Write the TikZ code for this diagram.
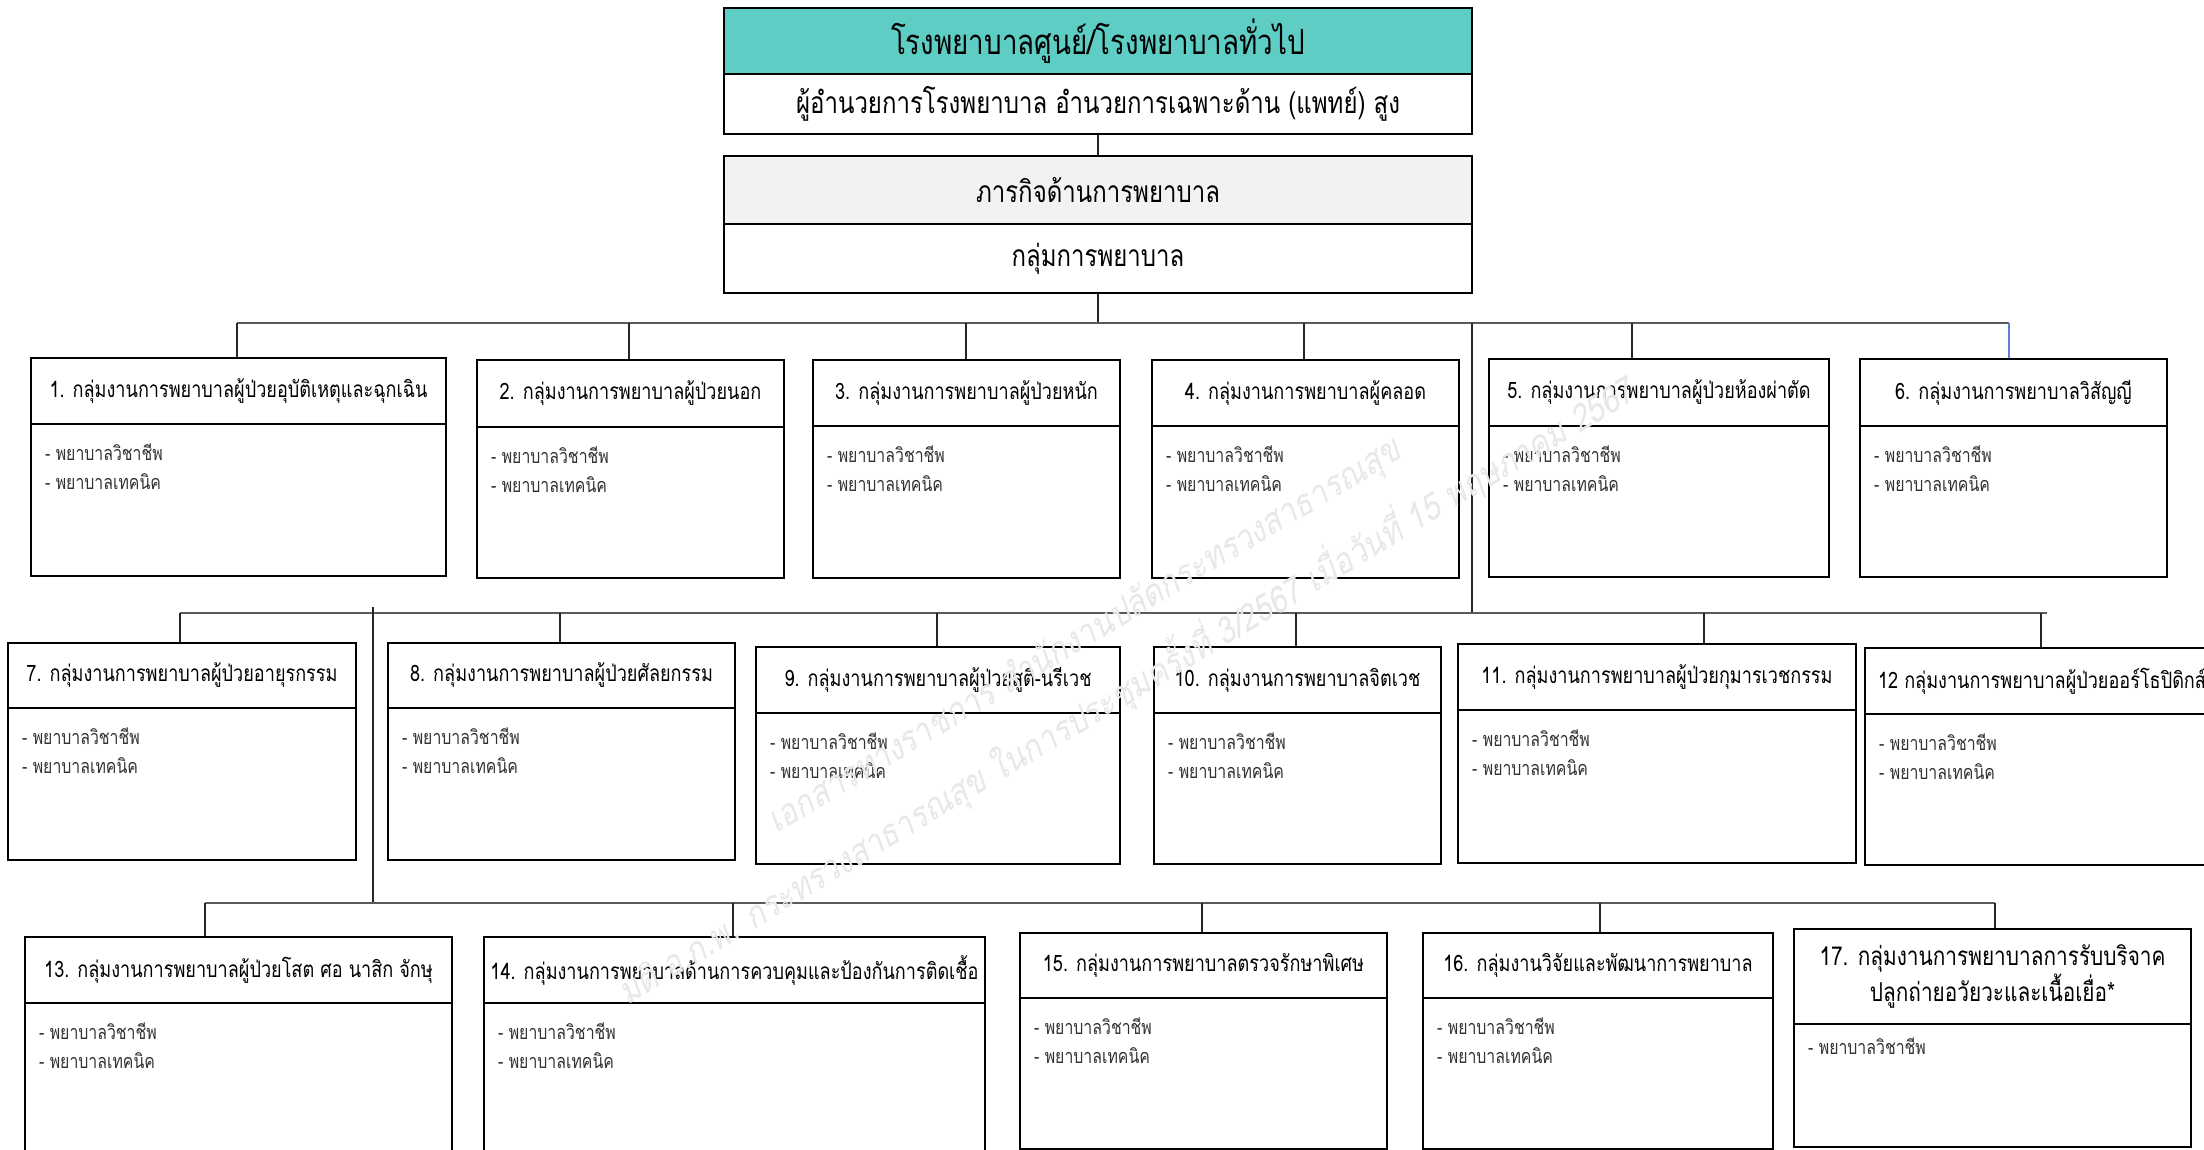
\documentclass[tikz,border=0pt]{standalone}
\usepackage{fontspec}
\setmainfont[Script=Thai,FakeStretch=0.8]{Loma}
\newfontfamily\wmfont[Script=Thai,FakeSlant=0.2,FakeStretch=0.85]{Loma}
\definecolor{tealhead}{RGB}{94,206,196}
\definecolor{grayhead}{RGB}{242,242,242}
\definecolor{linkblue}{RGB}{90,130,210}
\definecolor{busline}{RGB}{90,90,90}
\tikzset{
  topbox/.style={draw=black, line width=2pt, inner sep=0pt, anchor=north west, align=center},
  boxhdr/.style={draw=black, line width=2pt, fill=white, inner sep=0pt, anchor=north west, align=center, font=\fontsize{22.6}{31}\selectfont},
  boxbody/.style={draw=black, line width=2pt, fill=white, inner sep=0pt, anchor=north west},
  bultext/.style={anchor=west, inner sep=0pt, text=black!80, font=\fontsize{19.8}{22}\selectfont},
  conn/.style={draw=black!85, line width=1.2pt},
  bus/.style={draw=busline, line width=1.8pt},
  wmark/.style={text=black!9, rotate=31, inner sep=0pt, font=\wmfont\fontsize{36}{40}\selectfont},
}
% name, x1, x2, top, header bottom, bottom, header text
\newcommand\orgbox[7]{%
  \node[boxbody, minimum width={(#3-#2)*1pt}, minimum height={(#6-#5)*1pt}] (#1b) at (#2,#5) {};
  \node[boxhdr, minimum width={(#3-#2)*1pt}, minimum height={(#5-#4)*1pt}] (#1) at (#2,#4) {#7};}
\newcommand\twobul[3]{%
  \node[bultext] (#1p) at (#2+15,#3+29) {- พยาบาลวิชาชีพ};
  \node[bultext] (#1t) at (#2+15,#3+59) {- พยาบาลเทคนิค};}
\begin{document}
\begin{tikzpicture}[x=1pt,y=-1pt]
\path[use as bounding box, fill=white] (0,0) rectangle (2204,1150);
\clip (0,0) rectangle (2204,1150);

% top
\node[topbox, fill=tealhead, minimum width=748pt, minimum height=66pt, font=\fontsize{34.7}{40}\selectfont] (hosp) at (723,7) {โรงพยาบาลศูนย์/โรงพยาบาลทั่วไป};
\node[topbox, fill=white, minimum width=748pt, minimum height=60pt, font=\fontsize{30}{34}\selectfont] (dir) at (723,73) {ผู้อำนวยการโรงพยาบาล อำนวยการเฉพาะด้าน (แพทย์) สูง};
\node[topbox, fill=grayhead, minimum width=748pt, minimum height=68pt, font=\fontsize{30}{34}\selectfont] (mission) at (723,155) {ภารกิจด้านการพยาบาล};
\node[topbox, fill=white, minimum width=748pt, minimum height=69pt, font=\fontsize{30}{34}\selectfont] (grp) at (723,223) {กลุ่มการพยาบาล};

% row 1 boxes
\orgbox{b1}{30}{445}{357}{423}{575}{1. กลุ่มงานการพยาบาลผู้ป่วยอุบัติเหตุและฉุกเฉิน}
\orgbox{b2}{476}{783}{359}{426}{577}{2. กลุ่มงานการพยาบาลผู้ป่วยนอก}
\orgbox{b3}{812}{1119}{359}{425}{577}{3. กลุ่มงานการพยาบาลผู้ป่วยหนัก}
\orgbox{b4}{1151}{1458}{359}{425}{577}{4. กลุ่มงานการพยาบาลผู้คลอด}
\orgbox{b5}{1488}{1828}{358}{425}{576}{5. กลุ่มงานการพยาบาลผู้ป่วยห้องผ่าตัด}
\orgbox{b6}{1859}{2166}{358}{425}{576}{6. กลุ่มงานการพยาบาลวิสัญญี}
\twobul{b1}{30}{423}
\twobul{b2}{476}{426}
\twobul{b3}{812}{425}
\twobul{b4}{1151}{425}
\twobul{b5}{1488}{425}
\twobul{b6}{1859}{425}

% row 2 boxes
\orgbox{b7}{7}{355}{642}{707}{859}{7. กลุ่มงานการพยาบาลผู้ป่วยอายุรกรรม}
\orgbox{b8}{387}{734}{642}{707}{859}{8. กลุ่มงานการพยาบาลผู้ป่วยศัลยกรรม}
\orgbox{b9}{755}{1119}{646}{712}{863}{9. กลุ่มงานการพยาบาลผู้ป่วยสูติ-นรีเวช}
\orgbox{b10}{1153}{1440}{646}{712}{863}{10. กลุ่มงานการพยาบาลจิตเวช}
\orgbox{b11}{1457}{1855}{643}{709}{862}{11. กลุ่มงานการพยาบาลผู้ป่วยกุมารเวชกรรม}
\orgbox{b12}{1864}{2218}{647}{713}{864}{12 กลุ่มงานการพยาบาลผู้ป่วยออร์โธปิดิกส์}
\twobul{b7}{7}{707}
\twobul{b8}{387}{707}
\twobul{b9}{755}{712}
\twobul{b10}{1153}{712}
\twobul{b11}{1457}{709}
\twobul{b12}{1864}{713}

% row 3 boxes
\orgbox{b13}{24}{451}{936}{1002}{1170}{13. กลุ่มงานการพยาบาลผู้ป่วยโสต ศอ นาสิก จักษุ}
\orgbox{b14}{483}{984}{936}{1002}{1170}{14. กลุ่มงานการพยาบาลด้านการควบคุมและป้องกันการติดเชื้อ}
\orgbox{b15}{1019}{1386}{932}{997}{1148}{15. กลุ่มงานการพยาบาลตรวจรักษาพิเศษ}
\orgbox{b16}{1422}{1772}{932}{997}{1148}{16. กลุ่มงานวิจัยและพัฒนาการพยาบาล}
\node[boxbody, minimum width=397pt, minimum height=123pt] (b17b) at (1793,1023) {};
\node[boxhdr, minimum width=397pt, minimum height=95pt, font=\fontsize{26}{31}\selectfont] (b17) at (1793,928) {17. กลุ่มงานการพยาบาลการรับบริจาค\\ปลูกถ่ายอวัยวะและเนื้อเยื่อ*};
\twobul{b13}{24}{1002}
\twobul{b14}{483}{1002}
\twobul{b15}{1019}{997}
\twobul{b16}{1422}{997}
\node[bultext] (b17p) at (1808,1046) {- พยาบาลวิชาชีพ};

% connectors: top
\draw[conn] (dir.south) -- (mission.north);
\coordinate (bus1L) at (237,323);
\coordinate (bus1R) at (2009,323);
\draw[conn] (grp.south) -- (grp.south |- bus1L);
\draw[bus] (bus1L) -- (bus1R);
\coordinate (c1) at (237,323);
\coordinate (c2) at (629,323);
\coordinate (c3) at (966,323);
\coordinate (c4) at (1304,323);
\coordinate (c5) at (1632,323);
\coordinate (c6) at (2009,323);
\draw[conn] (c1) -- (c1 |- b1.north);
\draw[conn] (c2) -- (c2 |- b2.north);
\draw[conn] (c3) -- (c3 |- b3.north);
\draw[conn] (c4) -- (c4 |- b4.north);
\draw[conn] (c5) -- (c5 |- b5.north);
\draw[conn, draw=linkblue] (c6) -- (c6 |- b6.north);

% row 2 bus
\coordinate (t2) at (1472,323);
\coordinate (bus2L) at (180,613);
\coordinate (bus2R) at (2047,613);
\draw[conn] (t2) -- (t2 |- bus2L);
\draw[bus] (bus2L) -- (bus2R);
\coordinate (c7) at (180,613);
\coordinate (c8) at (560,613);
\coordinate (c9) at (937,613);
\coordinate (c10) at (1296,613);
\coordinate (c11) at (1704,613);
\coordinate (c12) at (2041,613);
\draw[conn] (c7) -- (c7 |- b7.north);
\draw[conn] (c8) -- (c8 |- b8.north);
\draw[conn] (c9) -- (c9 |- b9.north);
\draw[conn] (c10) -- (c10 |- b10.north);
\draw[conn] (c11) -- (c11 |- b11.north);
\draw[conn] (c12) -- (c12 |- b12.north);

% row 3 bus
\coordinate (t3) at (373,607);
\coordinate (bus3L) at (205,903);
\coordinate (bus3R) at (1995,903);
\draw[conn] (t3) -- (t3 |- bus3L);
\draw[bus] (bus3L) -- (bus3R);
\coordinate (c13) at (205,903);
\coordinate (c14) at (733,903);
\coordinate (c15) at (1202,903);
\coordinate (c16) at (1600,903);
\coordinate (c17) at (1995,903);
\draw[conn] (c13) -- (c13 |- b13.north);
\draw[conn] (c14) -- (c14 |- b14.north);
\draw[conn] (c15) -- (c15 |- b15.north);
\draw[conn] (c16) -- (c16 |- b16.north);
\draw[conn] (c17) -- (c17 |- b17.north);

% watermark (on top, faint)
\node[wmark] (wm1) at (1085,637) {เอกสารทางราชการ สำนักงานปลัดกระทรวงสาธารณสุข};
\node[wmark] (wm2) at (1125,690) {มติ อ.ก.พ. กระทรวงสาธารณสุข ในการประชุมครั้งที่ 3/2567 เมื่อวันที่ 15 พฤษภาคม 2567};
\end{tikzpicture}
\end{document}
